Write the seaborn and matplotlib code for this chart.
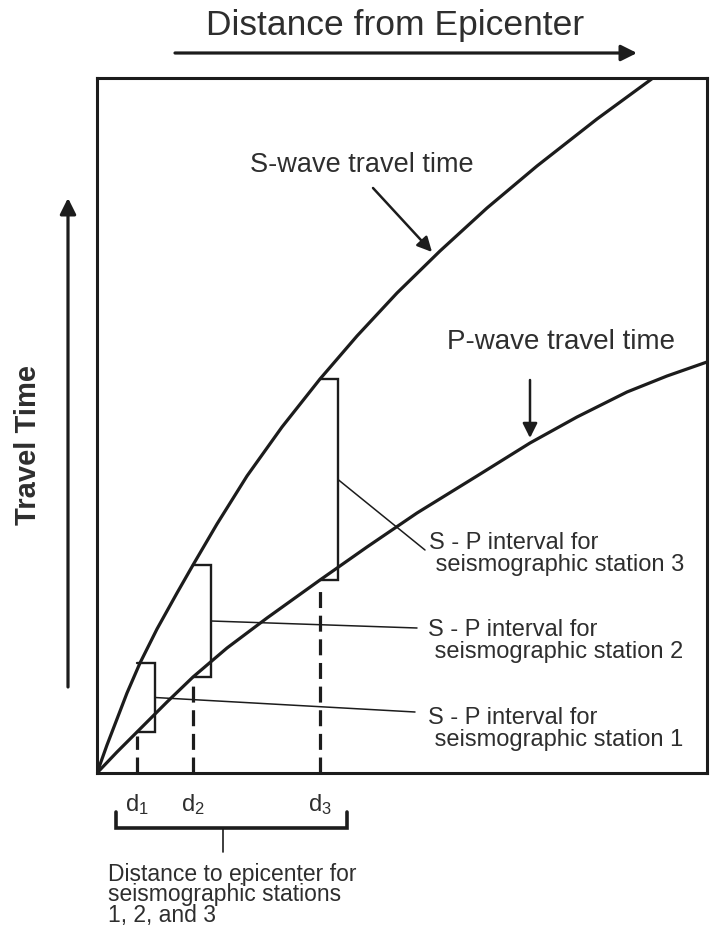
import matplotlib
matplotlib.use('Agg')
import matplotlib.pyplot as plt
import seaborn as sns
import pandas as pd

# ---- data (distance units, travel-time units) ----
s_dist = [0, 10, 20, 30, 43, 60, 80, 96, 120, 150, 185, 223, 260, 300, 343, 390, 440, 500, 556, 580]
s_time = [0, 28, 54, 80, 110, 144, 180, 208, 249, 297, 346, 394, 437, 480, 522, 565, 607, 654, 695, 712]
p_dist = [0, 20, 40, 70, 96, 130, 170, 223, 270, 320, 380, 433, 480, 530, 570, 610]
p_time = [0, 21, 41, 71, 96, 125, 155, 193, 226, 260, 297, 330, 356, 381, 397, 411]
station_d = [40, 96, 223]
station_s = [110, 208, 394]
station_p = [41, 96, 193]
station_ids = ['1', '2', '3']
interval_text = ['S - P interval for\n seismographic station {}'.format(i) for i in station_ids]

sns.set_theme(style='white')
plt.rcParams['font.family'] = ['Liberation Sans', 'DejaVu Sans']
plt.rcParams['mathtext.default'] = 'regular'

INK = '#1c1c1c'
TXT = '#2e2e2e'

fig = plt.figure(figsize=(7.11, 9.33), dpi=100)
ax = fig.add_axes([97 / 711, 160 / 933, 610 / 711, 695 / 933])

df = pd.concat([
    pd.DataFrame({'dist': s_dist, 'time': s_time, 'wave': 'S'}),
    pd.DataFrame({'dist': p_dist, 'time': p_time, 'wave': 'P'}),
])
sns.lineplot(data=df, x='dist', y='time', hue='wave', palette={'S': INK, 'P': INK},
             sort=False, legend=False, lw=2.3, ax=ax, estimator=None)

ax.set_xlim(0, 610)
ax.set_ylim(0, 695)
ax.set_xticks([])
ax.set_yticks([])
ax.set_xlabel('')
ax.set_ylabel('')
for sp in ax.spines.values():
    sp.set_visible(True)
    sp.set_linewidth(2.2)
    sp.set_color(INK)

box_w = 18
for d, s, p, sid in zip(station_d, station_s, station_p, station_ids):
    ax.plot([d, d + box_w, d + box_w, d], [s, s, p, p], color=INK, lw=1.7,
            solid_joinstyle='miter')
    ax.plot([d, d], [0, p - 4], color=INK, lw=2.3, dashes=(5, 2.4))
    ax.text(d, -32, r'd$_{%s}$' % sid, ha='center', va='center',
            fontsize=17, color=TXT, clip_on=False)

# connectors to S-P interval labels
text_pos = [(331, 44), (331, 132), (332, 219)]
conn_end = [(318, 61), (320, 145), (328, 223)]
for d, s, p, (tx, ty), (cx, cy), lab in zip(station_d, station_s, station_p,
                                           text_pos, conn_end, interval_text):
    ax.plot([d + box_w, cx], [(s + p) / 2, cy], color=INK, lw=1.1, clip_on=False)
    ax.text(tx, ty, lab, ha='left', va='center', fontsize=17, color=TXT,
            linespacing=0.98, clip_on=False)

# wave labels with arrows
ax.text(153, 608, 'S-wave travel time', ha='left', va='center', fontsize=19.5, color=TXT)
ax.annotate('', xy=(335, 521), xytext=(276, 585),
            arrowprops=dict(arrowstyle='-|>', color=INK, lw=1.8, mutation_scale=22,
                            shrinkA=0, shrinkB=0))
ax.text(578, 431, 'P-wave travel time', ha='right', va='center', fontsize=20, color=TXT)
ax.annotate('', xy=(433, 335), xytext=(433, 393),
            arrowprops=dict(arrowstyle='-|>', color=INK, lw=1.8, mutation_scale=22,
                            shrinkA=0, shrinkB=0))

# outer axis arrows and titles
ax.annotate('', xy=(540, 720), xytext=(78, 720), annotation_clip=False,
            arrowprops=dict(arrowstyle='-|>', color=INK, lw=2.3, mutation_scale=24,
                            shrinkA=0, shrinkB=0))
ax.text(298, 747, 'Distance from Epicenter', ha='center', va='center', fontsize=25.5,
        color=TXT, clip_on=False)
ax.annotate('', xy=(-29, 575), xytext=(-29, 86), annotation_clip=False,
            arrowprops=dict(arrowstyle='-|>', color=INK, lw=2.3, mutation_scale=24,
                            shrinkA=0, shrinkB=0))
ax.text(-69, 328, 'Travel Time', ha='center', va='center', rotation=90, fontsize=21,
        fontweight='bold', color=TXT, clip_on=False)

# bracket under the stations
ax.plot([19, 19, 250, 250], [-39, -55, -55, -39], color=INK, lw=2.6, clip_on=False,
        solid_joinstyle='miter')
ax.plot([126, 126], [-55, -79], color=INK, lw=1.2, clip_on=False)
ax.text(11, -90, 'Distance to epicenter for\nseismographic stations\n1, 2, and 3',
        ha='left', va='top', fontsize=16.5, color=TXT, linespacing=0.86, clip_on=False)

fig.savefig('out.png', dpi=100, facecolor='white')
